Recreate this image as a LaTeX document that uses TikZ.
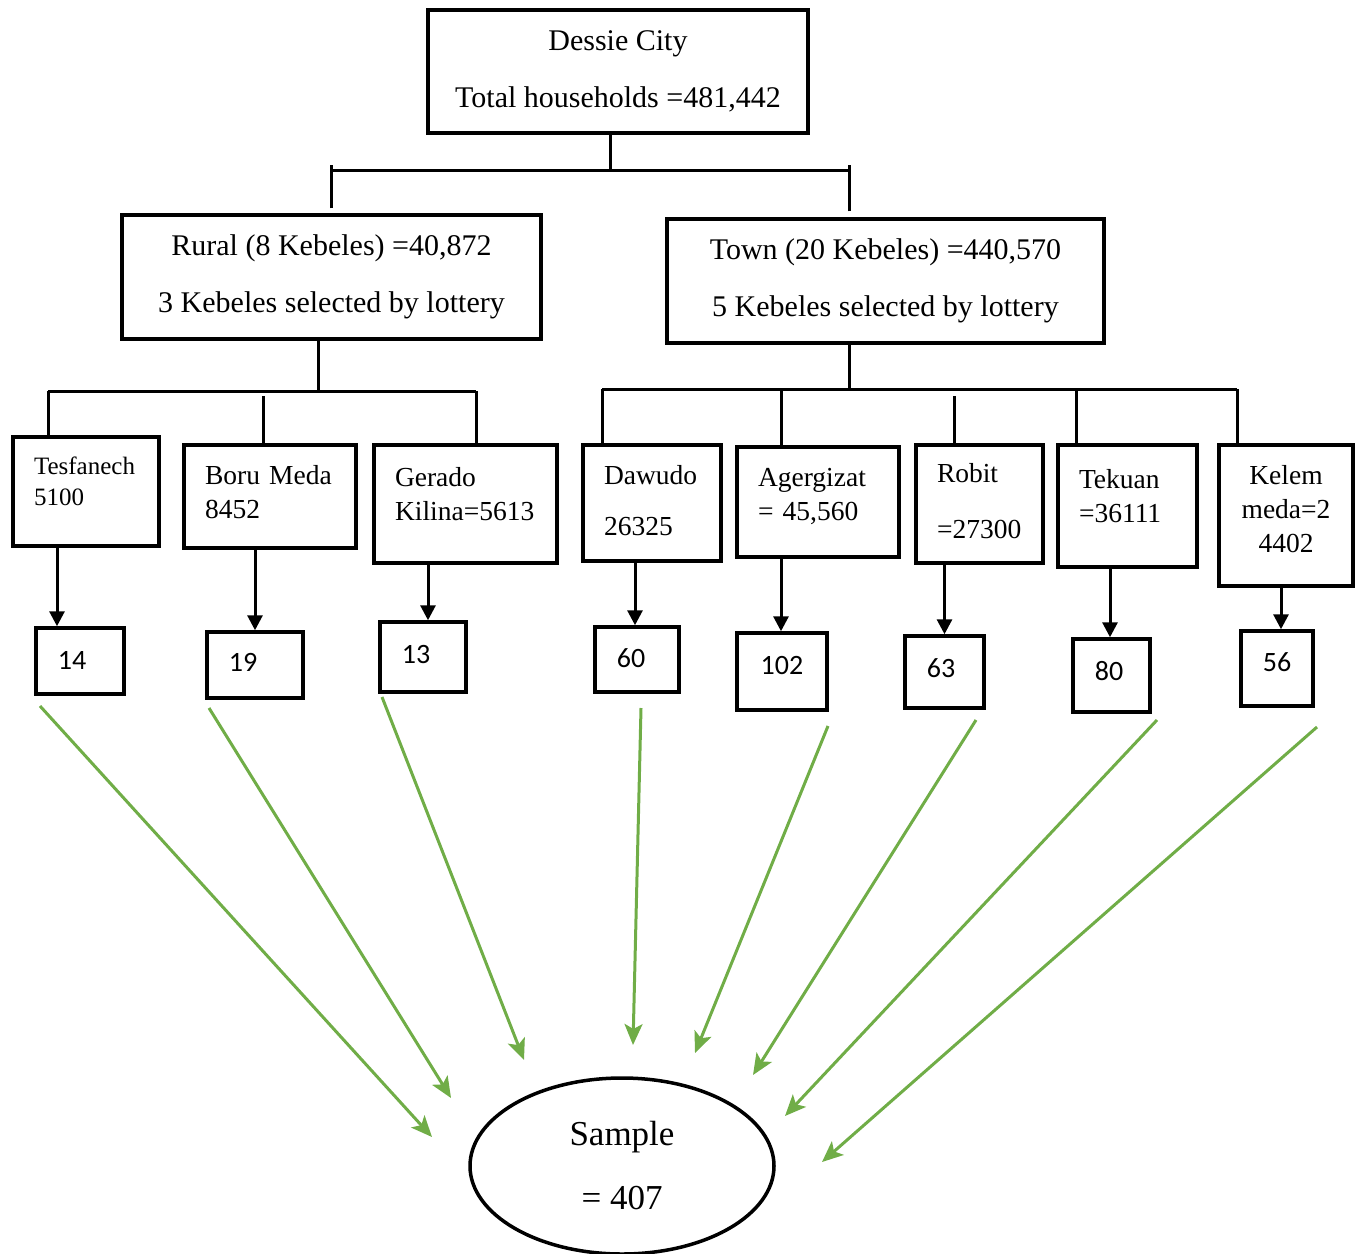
\documentclass[tikz,border=0pt]{standalone}
\usepackage{fontspec}
\setmainfont{Liberation Serif}
\newfontfamily\numfont{Carlito}
\usepackage{xcolor}
\usepackage{tikz}
\usetikzlibrary{calc, arrows.meta, shapes.geometric}
\definecolor{leafgreen}{HTML}{70AD47}
\tikzset{
  headbox/.style={draw,line width=3.5pt,align=center,inner sep=0pt,font=\fontsize{30}{57}\selectfont},
  kebele/.style={draw,line width=3.5pt,align=left,inner xsep=21pt,inner ysep=0pt,font=\fontsize{27.5}{34}\selectfont},
  numbox/.style={draw,line width=3.5pt,inner sep=0pt,font=\numfont\fontsize{28}{34}\selectfont},
  tree/.style={line width=3pt},
  down/.style={line width=3pt,-{Triangle[length=15pt,width=15pt]}},
  feed/.style={line width=3pt,color=leafgreen,-{Stealth[length=21pt,width=18pt,inset=5pt]}}
}

\begin{document}
\begin{tikzpicture}[x=1pt,y=-1pt]
  \useasboundingbox (0,0) rectangle (1357,1253);
  % city and the two strata
  \node[headbox, minimum width=380pt, minimum height=123pt] (city) at (618,71.5) {Dessie City\\Total households =481,442};
  \node[headbox, minimum width=419pt, minimum height=124pt] (rural) at (331.5,277) {Rural (8 Kebeles) =40,872\\3 Kebeles selected by lottery};
  \node[headbox, minimum width=437pt, minimum height=124pt] (town) at (885.5,281) {Town (20 Kebeles) =440,570\\5 Kebeles selected by lottery};

  % selected kebeles
  \node[kebele, text width=104pt, minimum height=109pt, text depth=51pt, font=\fontsize{25}{31}\selectfont] (tesf) at (86,491.5) {Tesfanech\\5100};
  \node[kebele, text width=130pt, minimum height=103pt, text depth=44pt] (boru) at (270,496.5) {Boru Meda\\8452};
  \node[kebele, text width=141pt, minimum height=118pt, text depth=54pt] (gerado) at (465.5,504) {Gerado\\Kilina=5613};
  \node[kebele, text width=96pt, minimum height=116pt, text depth=57pt] (dawudo) at (652,503) {Dawudo\\[17pt]26325};
  \node[kebele, text width=120pt, minimum height=110pt, text depth=50pt] (agerg) at (818,502) {Agergizat\\= 45,560};
  \node[kebele, text width=85pt, minimum height=118pt, text depth=62pt] (robit) at (979.5,504) {Robit\\[22pt]=27300};
  \node[kebele, text width=97pt, minimum height=122pt, text depth=54pt] (tekuan) at (1127.5,506) {Tekuan\\=36111};
  \node[kebele, text width=92pt, minimum height=141pt, text depth=82pt, align=center] (kelem) at (1286,515.5) {Kelem\\meda=2\\4402};

  % households sampled per kebele
  \node[numbox, minimum width=88pt, minimum height=66pt, text depth=2pt] (n14) at (80,661) {\hspace*{-16pt}14};
  \node[numbox, minimum width=96pt, minimum height=66pt, text depth=6pt] (n19) at (255,665) {\hspace*{-24pt}19};
  \node[numbox, minimum width=86pt, minimum height=70pt, text depth=6pt] (n13) at (423,657) {\hspace*{-14pt}13};
  \node[numbox, minimum width=84pt, minimum height=65pt, text depth=2pt] (n60) at (637,659.5) {\hspace*{-12pt}60};
  \node[numbox, minimum width=90pt, minimum height=77pt, text depth=12pt] (n102) at (782,671.5) {102};
  \node[numbox, minimum width=79pt, minimum height=72pt, text depth=8pt] (n63) at (944.5,672) {\hspace*{-7pt}63};
  \node[numbox, minimum width=77pt, minimum height=73pt, text depth=10pt] (n80) at (1111.5,675.5) {\hspace*{-5pt}80};
  \node[numbox, minimum width=72pt, minimum height=75pt, text depth=12pt] (n56) at (1277,668.5) {56};

  \node[draw, ellipse, line width=3.5pt, minimum width=304pt, minimum height=176pt, inner sep=0pt, align=center, font=\fontsize{35}{64}\selectfont] (sample) at (622,1166) {Sample\\= 407};

  % tree lines
  \coordinate (cbar) at (610,170);
  \coordinate (rbar) at (318,391);
  \coordinate (tbar) at (849,389);
  \draw[tree] (city.south -| cbar) -- (cbar);
  \draw[tree] (rural.north |- cbar) -- (tbar |- cbar);
  \draw[tree] ($(rural.north)+(0,-5)$) -- ($(rural.north |- cbar)+(0,-5)$);
  \draw[tree] ($(town.north -| tbar)+(0,-6)$) -- ($(tbar |- cbar)+(0,-5)$);

  \coordinate (rl) at (48,391);
  \coordinate (rm) at (263,396);
  \coordinate (rr) at (476,391);
  \draw[tree] (rural.south -| rbar) -- (rbar);
  \draw[tree] (rl) -- (rr);
  \draw[tree] (tesf.north -| rl) -- (rl);
  \draw[tree] (boru.north -| rm) -- (rm);
  \draw[tree] (gerado.north -| rr) -- (rr);

  \coordinate (tl) at (602,389);
  \coordinate (t2) at (781,389);
  \coordinate (t3) at (954,396);
  \coordinate (t4) at (1076,389);
  \coordinate (tr) at (1237,389);
  \draw[tree] (town.south -| tbar) -- (tbar);
  \draw[tree] (tl) -- (tr);
  \draw[tree] (dawudo.north -| tl) -- (tl);
  \draw[tree] (agerg.north -| t2) -- (t2);
  \draw[tree] (robit.north -| t3) -- (t3);
  \draw[tree] (tekuan.north -| t4) -- (t4);
  \draw[tree] (kelem.north -| tr) -- (tr);

  % kebele -> sample size
  \foreach \src/\dst/\dx in {tesf/n14/-23, boru/n19/0, gerado/n13/5, dawudo/n60/-2, agerg/n102/-1, robit/n63/0, tekuan/n80/-1.5, kelem/n56/4}{
    \coordinate (tip) at ([xshift=\dx pt]\dst.north);
    \draw[down] (\src.south -| tip) -- (tip);
  }

  % green arrows into the total sample
  \coordinate (g1) at (40,706);    \coordinate (h1) at (432,1137);
  \coordinate (g2) at (209,708);   \coordinate (h2) at (451,1098);
  \coordinate (g3) at (382,697);   \coordinate (h3) at (524,1060);
  \coordinate (g4) at (641,708);   \coordinate (h4) at (633,1045);
  \coordinate (g5) at (828,726);   \coordinate (h5) at (695,1053);
  \coordinate (g6) at (976,720);   \coordinate (h6) at (753,1075);
  \coordinate (g7) at (1157,720);  \coordinate (h7) at (785,1116);
  \coordinate (g8) at (1317,727);  \coordinate (h8) at (822,1162);
  \foreach \i in {1,...,8}
    \draw[feed] (g\i) -- (h\i);
\end{tikzpicture}
\end{document}
